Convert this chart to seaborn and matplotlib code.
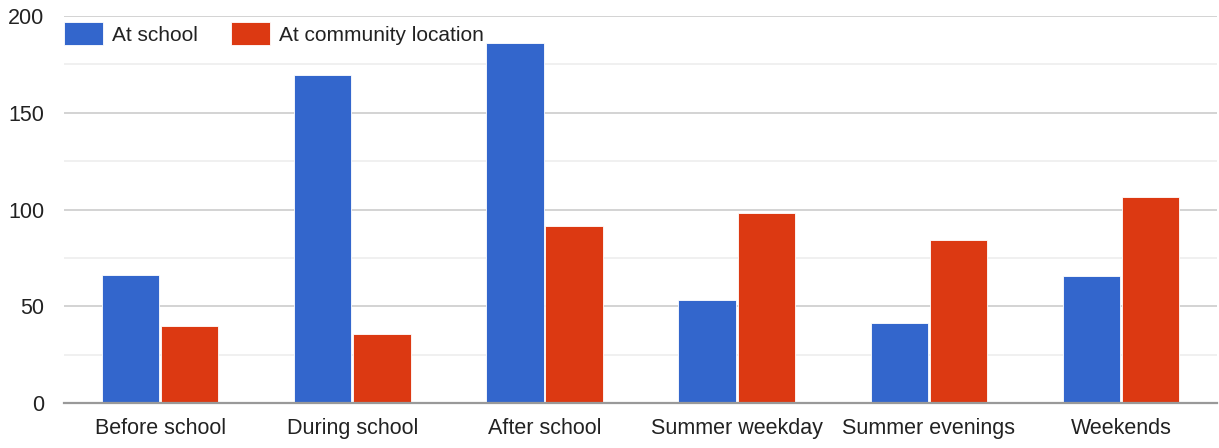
import numpy as np
import pandas as pd
import matplotlib
matplotlib.use("Agg")
import matplotlib.pyplot as plt
import seaborn as sns
from matplotlib.ticker import MultipleLocator

# ==== Data ====
categories = ["Before school", "During school", "After school",
              "Summer weekday", "Summer evenings", "Weekends"]
at_school = [66, 169.5, 186, 53.5, 41.5, 65.5]
at_community = [40, 35.5, 91.5, 98, 84.5, 106.5]
series_names = ["At school", "At community location"]
palette = ["#3366cc", "#dc3912"]

df = pd.DataFrame({
    "period": categories * 2,
    "count": at_school + at_community,
    "place": [series_names[0]] * len(categories) + [series_names[1]] * len(categories),
})

sns.set_theme(style="white")
plt.rcParams["font.family"] = ["Liberation Sans", "DejaVu Sans"]

fig = plt.figure(figsize=(12.19, 4.48), dpi=100)
ax = fig.add_axes([0.0525, 0.1004, 0.946, 0.8636])

sns.barplot(data=df, x="period", y="count", hue="place", palette=palette,
            width=0.615, gap=0.03, saturation=1, edgecolor="white", linewidth=0.6,
            ax=ax)

ax.set_ylim(0, 200)
ax.yaxis.set_major_locator(MultipleLocator(50))
ax.yaxis.set_minor_locator(MultipleLocator(25))
ax.grid(axis="y", which="major", color="#cccccc", linewidth=1.2)
ax.grid(axis="y", which="minor", color="#ededed", linewidth=1.2)
ax.set_axisbelow(True)

for s in ["left", "right", "top"]:
    ax.spines[s].set_visible(False)
ax.spines["bottom"].set_color("#999999")
ax.spines["bottom"].set_linewidth(1.6)

ax.set_xlabel("")
ax.set_ylabel("")
ax.tick_params(axis="both", which="both", length=0, labelsize=15.5, colors="#222222")
ax.tick_params(axis="y", pad=14)
ax.tick_params(axis="x", pad=11)

handles, labels = ax.get_legend_handles_labels()
ax.legend(handles, labels, loc="upper left", bbox_to_anchor=(0, 0.985), ncol=2,
          frameon=False, fontsize=15, borderpad=0, borderaxespad=0,
          handlelength=1.85, handleheight=1.35, handletextpad=0.45,
          columnspacing=1.6, labelcolor="#222222")

fig.savefig("out.png", dpi=100)
